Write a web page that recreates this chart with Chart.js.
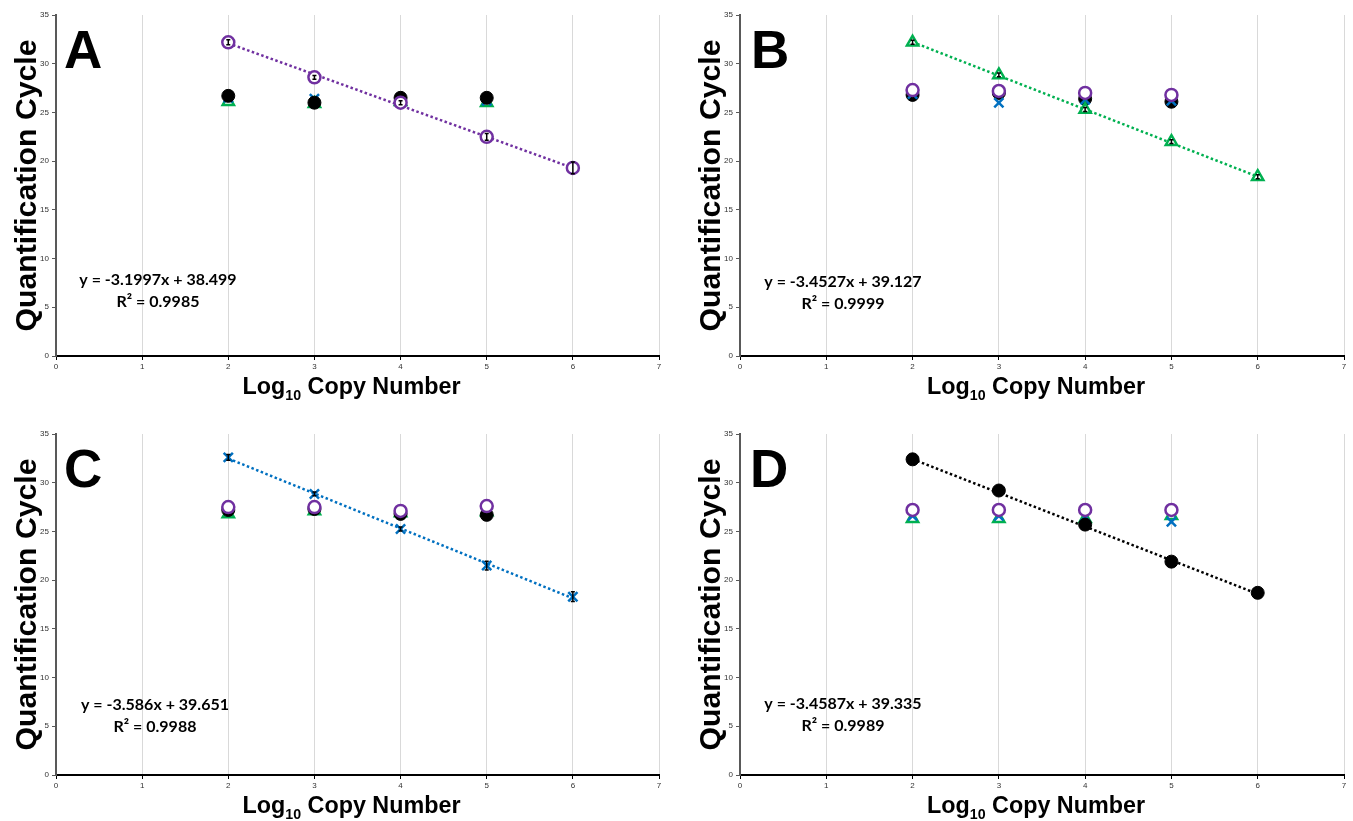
<!DOCTYPE html>
<html lang="en">
<head>
  <meta charset="UTF-8">
  <title>Standard curves</title>
  <script src="https://cdn.jsdelivr.net/npm/chart.js"></script>
  <style>
    body {
      margin: 0;
      background: #fff;
      overflow: hidden;
      width: 1353px;
      height: 821px;
      position: relative;
    }
    canvas { position: absolute; }
  </style>
</head>
<body>

<canvas id="chartA" width="684" height="410" style="left:0;top:0"></canvas>
<canvas id="chartB" width="669" height="410" style="left:684px;top:0"></canvas>
<canvas id="chartC" width="684" height="410" style="left:0;top:419px"></canvas>
<canvas id="chartD" width="669" height="410" style="left:684px;top:419px"></canvas>

<script>
  // x values (log10 copy number)
  const xStd = [2, 3, 4, 5, 6];
  const xTest = [2, 3, 4, 5];

  // Panel A: purple is the standard
  const A_purple = [32.2, 28.6, 26.0, 22.5, 19.3];
  const A_black  = [26.7, 26.0, 26.5, 26.5];
  const A_blue   = [26.5, 26.4, 26.1, 26.2];
  const A_green  = [26.1, 25.9, 26.1, 26.0];
  const A_err    = [0.25, 0.2, 0.2, 0.35, 0.6];

  // Panel B: green is the standard
  const B_green  = [32.2, 28.85, 25.3, 22.0, 18.4];
  const B_purple = [27.3, 27.2, 27.0, 26.8];
  const B_black  = [26.8, 27.0, 26.4, 26.1];
  const B_blue   = [26.9, 26.0, 26.3, 26.2];
  const B_err    = [0.2, 0.2, 0.2, 0.2, 0.2];

  // Panel C: blue is the standard
  const C_blue   = [32.6, 28.85, 25.25, 21.5, 18.3];
  const C_purple = [27.5, 27.5, 27.1, 27.6];
  const C_black  = [27.2, 27.3, 26.8, 26.7];
  const C_green  = [26.8, 27.1, 26.9, 27.0];
  const C_err    = [0.3, 0.2, 0.2, 0.45, 0.5];

  // Panel D: black is the standard
  const D_black  = [32.4, 29.2, 25.7, 21.9, 18.7];
  const D_purple = [27.2, 27.2, 27.2, 27.2];
  const D_green  = [26.3, 26.3, 26.3, 26.6];
  const D_blue   = [26.6, 26.6, 26.5, 26.0];
  const D_err    = [0.3, 0.3, 0.3, 0.3, 0.3];

  // trendline equations shown on each panel
  const slopes     = [-3.1997, -3.4527, -3.586, -3.4587];
  const intercepts = [38.499, 39.127, 39.651, 39.335];
  const eqTexts    = ['y = -3.1997x + 38.499', 'y = -3.4527x + 39.127', 'y = -3.586x + 39.651', 'y = -3.4587x + 39.335'];
  const r2Texts    = ['R² = 0.9985', 'R² = 0.9999', 'R² = 0.9988', 'R² = 0.9989'];
  const letters    = ['A', 'B', 'C', 'D'];
  const yTitle = 'Quantification Cycle';
  const xTitleParts = ['Log', '10', ' Copy Number'];

  const styles = {
    purple: { pointStyle: 'circle',   color: '#7030A0', fill: '#ffffff', radius: 6,   width: 2.5 },
    black:  { pointStyle: 'circle',   color: '#000000', fill: '#000000', radius: 6.5, width: 1 },
    blue:   { pointStyle: 'crossRot', color: '#0070C0', fill: '#0070C0', radius: 6.5, width: 2.5 },
    green:  { pointStyle: 'triangle', color: '#00B050', fill: '#ffffff', radius: 6.5, width: 2.5 }
  };

  const panels = [
    { id: 'chartA', std: 'purple', err: A_err, padRight: 25, letterDx: 8,  eqDx: 102, eqDy: 265,
      series: [['purple', A_purple], ['black', A_black], ['blue', A_blue], ['green', A_green]] },
    { id: 'chartB', std: 'green',  err: B_err, padRight: 8,  letterDx: 11, eqDx: 103, eqDy: 267,
      series: [['green', B_green], ['purple', B_purple], ['blue', B_blue], ['black', B_black]] },
    { id: 'chartC', std: 'blue',   err: C_err, padRight: 25, letterDx: 8,  eqDx: 99,  eqDy: 271,
      series: [['blue', C_blue], ['purple', C_purple], ['black', C_black], ['green', C_green]] },
    { id: 'chartD', std: 'black',  err: D_err, padRight: 8,  letterDx: 10, eqDx: 103, eqDy: 270,
      series: [['black', D_black], ['purple', D_purple], ['blue', D_blue], ['green', D_green]] }
  ];

  const titleFont = '"Liberation Sans", Arial, sans-serif';

  function toPoints(ys) {
    const xs = ys.length === 5 ? xStd : xTest;
    return ys.map((y, i) => ({ x: xs[i], y: y }));
  }

  // small black error bars on the standard series (dataset 0)
  const errorBarPlugin = {
    id: 'errorBars',
    afterDatasetsDraw(chart, args, opts) {
      const ctx = chart.ctx;
      const meta = chart.getDatasetMeta(0);
      const ys = chart.scales.y;
      ctx.save();
      ctx.strokeStyle = '#000';
      ctx.lineWidth = 1.5;
      meta.data.forEach((pt, i) => {
        const v = chart.data.datasets[0].data[i].y;
        const top = ys.getPixelForValue(v + opts.values[i]);
        const bot = ys.getPixelForValue(v - opts.values[i]);
        ctx.beginPath();
        ctx.moveTo(pt.x, top); ctx.lineTo(pt.x, bot);
        ctx.moveTo(pt.x - 2, top); ctx.lineTo(pt.x + 2, top);
        ctx.moveTo(pt.x - 2, bot); ctx.lineTo(pt.x + 2, bot);
        ctx.stroke();
      });
      ctx.restore();
    }
  };

  // panel letter, trendline equation and the two axis titles
  const labelPlugin = {
    id: 'panelLabels',
    afterDraw(chart, args, opts) {
      const ctx = chart.ctx;
      const area = chart.chartArea;
      ctx.save();
      ctx.fillStyle = '#000';
      ctx.textAlign = 'left';
      ctx.textBaseline = 'alphabetic';
      ctx.font = 'bold 53px ' + titleFont;
      ctx.fillText(opts.letter, area.left + opts.letterDx, area.top + 53);

      ctx.textAlign = 'center';
      ctx.textBaseline = 'middle';
      ctx.font = 'bold 16px Lato, "Open Sans", sans-serif';
      ctx.fillText(opts.eq, area.left + opts.eqDx, area.top + opts.eqDy);
      ctx.fillText(opts.r2, area.left + opts.eqDx, area.top + opts.eqDy + 22);

      // y title, rotated, fitted to its length in the picture
      ctx.save();
      ctx.font = 'bold 30px ' + titleFont;
      ctx.textAlign = 'center';
      ctx.textBaseline = 'alphabetic';
      const wy = ctx.measureText(yTitle).width;
      ctx.translate(36, (area.top + area.bottom) / 2);
      ctx.rotate(-Math.PI / 2);
      ctx.scale(292 / wy, 1);
      ctx.fillText(yTitle, 0, 0);
      ctx.restore();

      // x title with a real subscript
      ctx.save();
      ctx.textAlign = 'left';
      ctx.textBaseline = 'alphabetic';
      const big = 'bold 23px ' + titleFont;
      const small = 'bold 14px ' + titleFont;
      ctx.font = big;
      const w0 = ctx.measureText(xTitleParts[0]).width;
      const w2 = ctx.measureText(xTitleParts[2]).width;
      ctx.font = small;
      const w1 = ctx.measureText(xTitleParts[1]).width;
      const f = 218 / (w0 + w1 + w2);
      const cx = (area.left + area.right) / 2 - 6;
      const base = area.bottom + 38;
      ctx.translate(cx - 109, base);
      ctx.scale(f, 1);
      ctx.font = big;
      ctx.fillText(xTitleParts[0], 0, 0);
      ctx.font = small;
      ctx.fillText(xTitleParts[1], w0, 6);
      ctx.font = big;
      ctx.fillText(xTitleParts[2], w0 + w1, 0);
      ctx.restore();

      ctx.restore();
    }
  };

  function renderPanel(p, k) {
    const stdStyle = styles[p.std];
    const datasets = p.series.map((s, i) => {
      const st = styles[s[0]];
      return {
        label: s[0],
        data: toPoints(s[1]),
        pointStyle: st.pointStyle,
        pointRadius: st.radius,
        pointBorderWidth: st.width,
        pointBorderColor: st.color,
        pointBackgroundColor: st.fill,
        showLine: false,
        order: i
      };
    });
    datasets.push({
      label: 'trend',
      type: 'line',
      data: [
        { x: 2, y: slopes[k] * 2 + intercepts[k] },
        { x: 6, y: slopes[k] * 6 + intercepts[k] }
      ],
      borderColor: stdStyle.color,
      borderWidth: 2.5,
      borderDash: [2.5, 2.5],
      pointRadius: 0,
      fill: false,
      order: 10
    });

    new Chart(document.getElementById(p.id), {
      type: 'scatter',
      data: { datasets: datasets },
      plugins: [errorBarPlugin, labelPlugin],
      options: {
        responsive: false,
        animation: false,
        events: [],
        layout: { padding: { top: 15, right: p.padRight, left: 0, bottom: 0 } },
        plugins: {
          legend: { display: false },
          tooltip: { enabled: false },
          errorBars: { values: p.err },
          panelLabels: { letter: letters[k], letterDx: p.letterDx, eq: eqTexts[k], r2: r2Texts[k], eqDx: p.eqDx, eqDy: p.eqDy }
        },
        scales: {
          x: {
            type: 'linear',
            min: 0, max: 7,
            afterFit: (s) => { s.height = 54; },
            ticks: { stepSize: 1, padding: 2, color: '#333', font: { size: 8, family: titleFont } },
            grid: { color: '#d9d9d9', lineWidth: 1, tickColor: '#000', tickLength: 4 },
            border: { color: '#000', width: 2 },
            title: { display: false }
          },
          y: {
            min: 0, max: 35,
            afterFit: (s) => { s.width = 56; },
            ticks: { stepSize: 5, padding: 3, color: '#333', font: { size: 8, family: titleFont } },
            grid: { drawOnChartArea: false, tickColor: '#595959', tickLength: 4 },
            border: { color: '#595959', width: 2 },
            title: { display: false }
          }
        }
      }
    });
  }

  panels.forEach(renderPanel);
</script>

</body>
</html>
